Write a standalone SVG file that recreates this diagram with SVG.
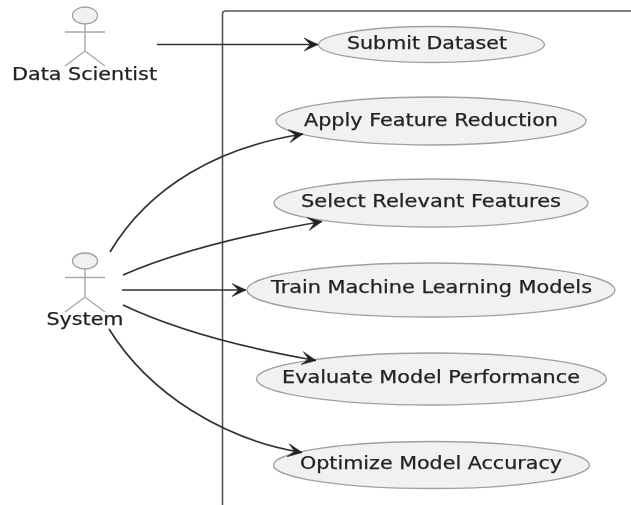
<svg xmlns="http://www.w3.org/2000/svg" width="631" height="505" viewBox="0 0 631 505">
<defs>
<marker id="arrow" markerUnits="userSpaceOnUse" markerWidth="20" markerHeight="16" refX="18" refY="8" orient="auto">
<path d="M4 1.500 L18 8 L4 14.500 L10.500 8 Z" fill="#222" stroke="#222" stroke-width="0.6"/>
</marker>
<filter id="soft" x="-5%" y="-5%" width="110%" height="110%"><feGaussianBlur stdDeviation="0.45"/></filter>
</defs>
<style>
.uc{fill:#f1f1f1;stroke:#a0a0a0;stroke-width:1.3}
.act{fill:none;stroke:#a8a8a8;stroke-width:1.4}
.head{fill:#f1f1f1;stroke:#a0a0a0;stroke-width:1.3}
.t{font-family:"DejaVu Sans",sans-serif;font-size:17px;fill:#222;stroke:#222;stroke-width:0.25;text-anchor:middle}
.c{fill:none;stroke:#333;stroke-width:1.7;marker-end:url(#arrow)}
</style>
<rect width="631" height="505" fill="#fff"/>
<g filter="url(#soft)">
<path id="boundary" d="M222.500 505V14Q222.500 11 225.500 11H631" fill="none" stroke="#555" stroke-width="1.6"/>
<g id="actor-data-scientist">
<ellipse class="head" cx="85" cy="15.500" rx="12.500" ry="8.500"/>
<path class="act" d="M85 24V51M65 32H105M65 66L85 51L105 66"/>
<text class="t" x="84.500" y="80" textLength="145" lengthAdjust="spacingAndGlyphs">Data Scientist</text>
</g>
<g id="actor-system">
<ellipse class="head" cx="85" cy="261" rx="12.500" ry="8"/>
<path class="act" d="M85 269V297M65 277.500H105M65 312L85 297L105 312"/>
<text class="t" x="85" y="325" textLength="77" lengthAdjust="spacingAndGlyphs">System</text>
</g>
<g id="uc-submit">
<ellipse class="uc" cx="431.500" cy="44.500" rx="113" ry="18"/>
<text class="t" x="427" y="49" textLength="160" lengthAdjust="spacingAndGlyphs">Submit Dataset</text>
</g>
<g id="uc-reduction">
<ellipse class="uc" cx="431" cy="121" rx="155" ry="24"/>
<text class="t" x="431" y="126" textLength="254" lengthAdjust="spacingAndGlyphs">Apply Feature Reduction</text>
</g>
<g id="uc-select">
<ellipse class="uc" cx="431" cy="203" rx="157" ry="24"/>
<text class="t" x="431" y="207" textLength="260" lengthAdjust="spacingAndGlyphs">Select Relevant Features</text>
</g>
<g id="uc-train">
<ellipse class="uc" cx="431" cy="290" rx="184" ry="27"/>
<text class="t" x="431.500" y="293" textLength="321" lengthAdjust="spacingAndGlyphs">Train Machine Learning Models</text>
</g>
<g id="uc-evaluate">
<ellipse class="uc" cx="431.500" cy="379" rx="175" ry="26"/>
<text class="t" x="431" y="383" textLength="298" lengthAdjust="spacingAndGlyphs">Evaluate Model Performance</text>
</g>
<g id="uc-optimize">
<ellipse class="uc" cx="431.500" cy="465" rx="158" ry="23.500"/>
<text class="t" x="431" y="469" textLength="262" lengthAdjust="spacingAndGlyphs">Optimize Model Accuracy</text>
</g>
<g id="connectors">
<path class="c" d="M110 252C150 185 220 147 303 134"/>
<path class="c" d="M123 275C180 250 250 234 322 221.500"/>
<path class="c" d="M157 44.500H318"/>
<path class="c" d="M122 290H246"/>
<path class="c" d="M123 305C180 332 250 349 316 360.500"/>
<path class="c" d="M109 329C150 395 225 440 302 452.500"/>
</g>
</g>
</svg>
